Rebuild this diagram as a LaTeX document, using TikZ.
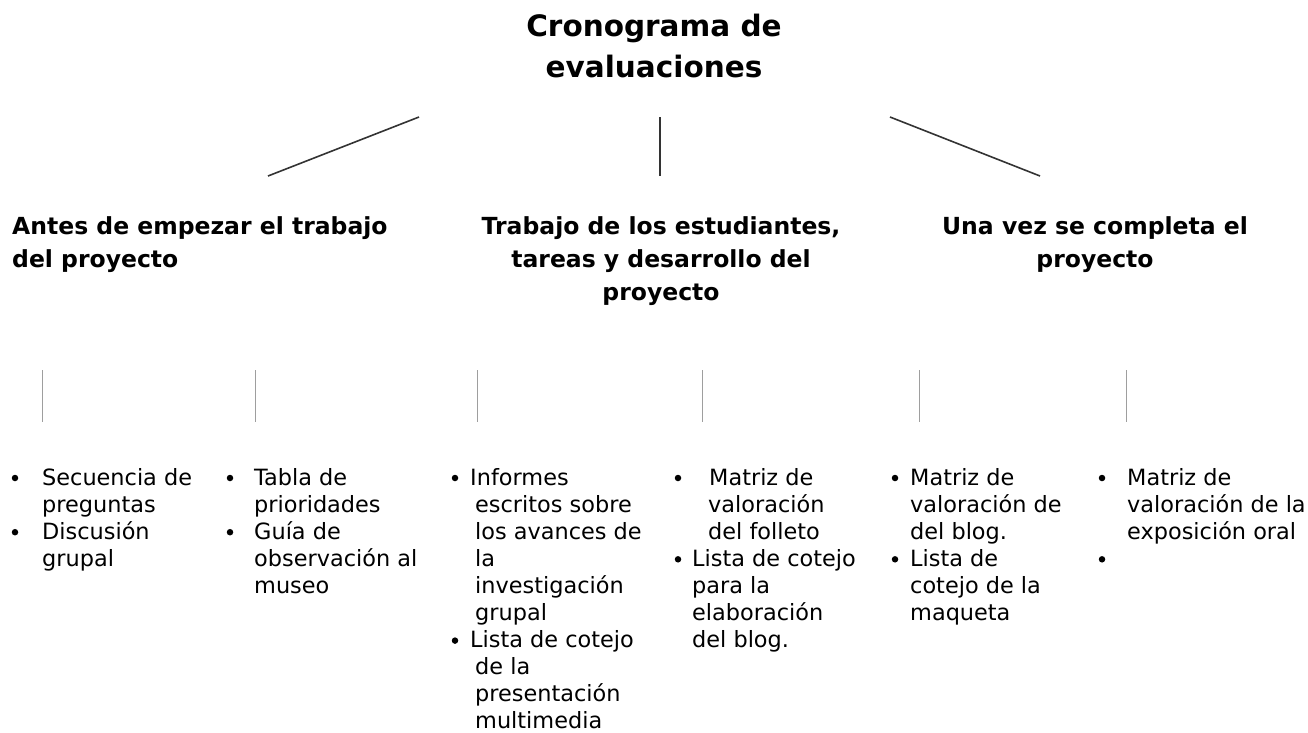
\documentclass[tikz,border=0pt]{standalone}
\usepackage{fontspec}
\setmainfont{DejaVu Sans}
\begin{document}
\begin{tikzpicture}[x=1pt,y=-1pt,
  titletxt/.style={inner sep=0pt,anchor=base,font=\fontsize{29.5}{41}\selectfont\bfseries},
  headtxt/.style={inner sep=0pt,font=\fontsize{23.5}{33}\selectfont\bfseries},
  itemtxt/.style={inner sep=0pt,anchor=base west,font=\fontsize{22.4}{27}\selectfont},
  bul/.style={circle,fill=black,inner sep=0pt,minimum size=6.5pt},
  branch/.style={draw=black!80,line width=1.6pt},
  stem/.style={draw=black!38,line width=0.9pt}]
\useasboundingbox (0,0) rectangle (1308,732);
% title
\node[titletxt] (t1) at (654,36) {Cronograma de};
\node[titletxt] (t2) at (654,77) {evaluaciones};
% branch lines
\coordinate (bL1) at (419,117); \coordinate (bL2) at (268,176);
\coordinate (bM1) at (660,117); \coordinate (bM2) at (660,176);
\coordinate (bR1) at (890,117); \coordinate (bR2) at (1040,176);
\draw[branch] (bL1) -- (bL2);
\draw[branch] (bM1) -- (bM2);
\draw[branch] (bR1) -- (bR2);
% headings
\node[headtxt,anchor=base west] (hA1) at (12,234) {Antes de empezar el trabajo};
\node[headtxt,anchor=base west] (hA2) at (12,267) {del proyecto};
\node[headtxt,anchor=base] (hB1) at (661,234) {Trabajo de los estudiantes,};
\node[headtxt,anchor=base] (hB2) at (661,267) {tareas y desarrollo del};
\node[headtxt,anchor=base] (hB3) at (661,300) {proyecto};
\node[headtxt,anchor=base] (hC1) at (1095,234) {Una vez se completa el};
\node[headtxt,anchor=base] (hC2) at (1095,267) {proyecto};
% stems
\foreach \x [count=\i] in {42,255,477,702,919,1126}{
  \coordinate (s\i a) at (\x,370);
  \coordinate (s\i b) at (\x,422);
  \draw[stem] (s\i a) -- (s\i b);
}
% bullets: x / row
\foreach \x/\r [count=\i] in {15/1,15/3,230/1,230/3,455/1,455/7,678/1,678/4,895/1,895/4,1102/1,1102/4}{
  \node[bul] (b\i) at (\x,{478+27.1*(\r-1)}) {};
}
% item lines: x / row / text
\foreach \x/\r/\t [count=\i] in {
  42/1/{Secuencia de},42/2/{preguntas},42/3/{Discusión},42/4/{grupal},
  254/1/{Tabla de},254/2/{prioridades},254/3/{Guía de},254/4/{observación al},254/5/{museo},
  470/1/{Informes},475/2/{escritos sobre},475/3/{los avances de},475/4/{la},475/5/{investigación},475/6/{grupal},
  470/7/{Lista de cotejo},475/8/{de la},475/9/{presentación},475/10/{multimedia},
  709/1/{Matriz de},708/2/{valoración},708/3/{del folleto},
  692/4/{Lista de cotejo},692/5/{para la},692/6/{elaboración},692/7/{del blog.},
  910/1/{Matriz de},910/2/{valoración de},910/3/{del blog.},910/4/{Lista de},910/5/{cotejo de la},910/6/{maqueta},
  1127/1/{Matriz de},1127/2/{valoración de la},1127/3/{exposición oral}}{
  \node[itemtxt] (i\i) at (\x,{485+27.1*(\r-1)}) {\t};
}
\end{tikzpicture}
\end{document}
